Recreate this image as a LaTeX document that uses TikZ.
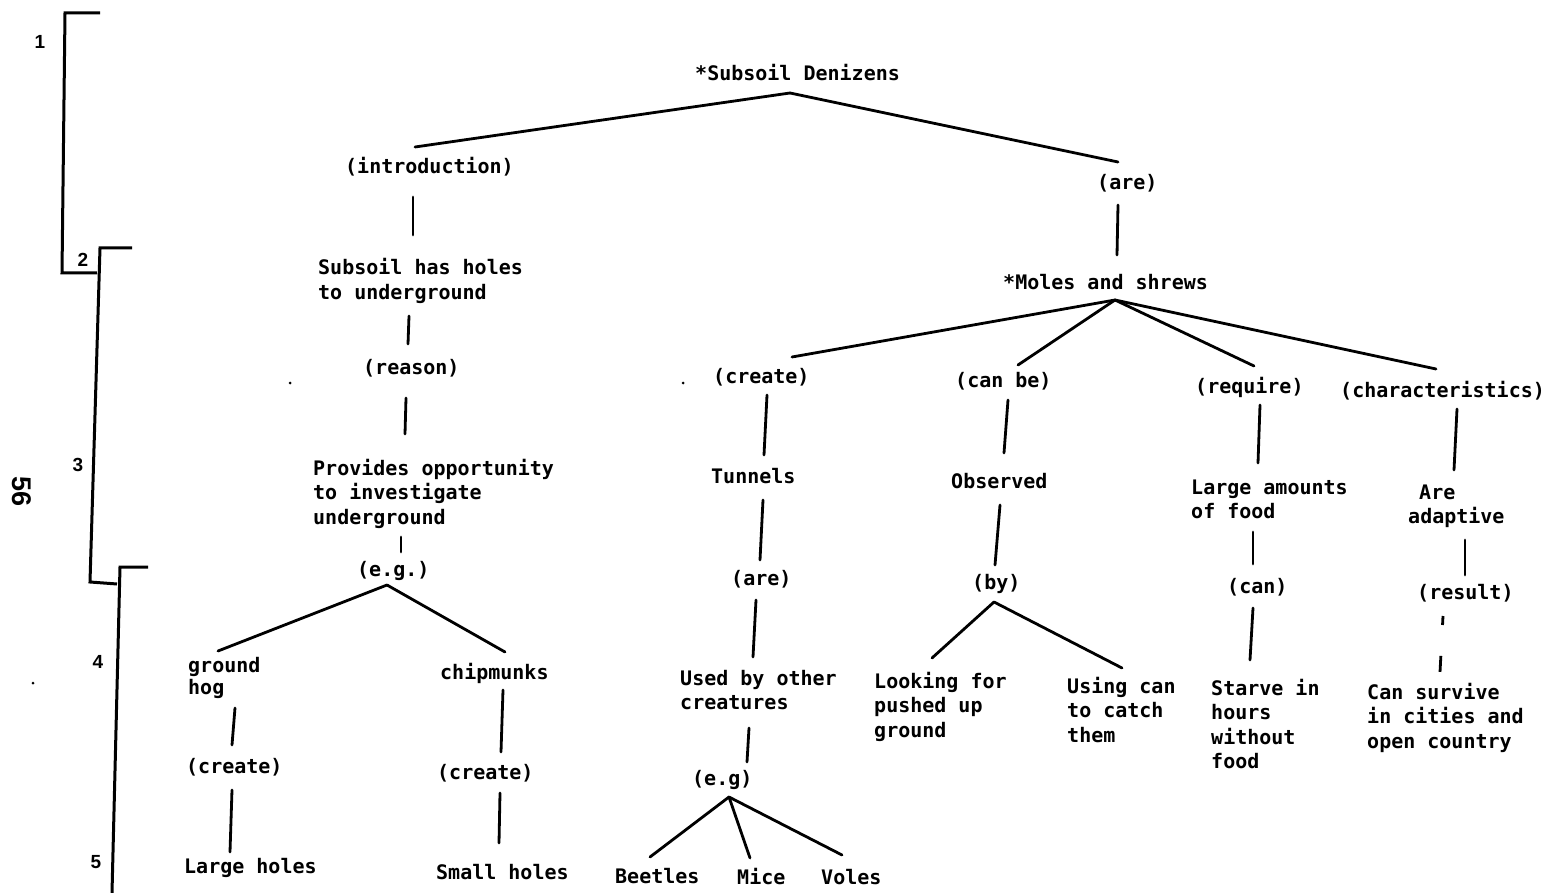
\documentclass[tikz,border=0pt]{standalone}
\usepackage{fontspec}
\setmainfont{DejaVu Sans Mono}
\newfontfamily\numfont{Liberation Sans}
\usetikzlibrary{calc}
\tikzset{
  lab/.style={anchor=base west, inner sep=0pt, font=\bfseries\fontsize{20}{24.5}\selectfont},
  conn/.style={line width=2.8pt, line cap=round},
  num/.style={inner sep=0pt, font=\numfont\bfseries\fontsize{19}{19}\selectfont},
  brk/.style={line width=3pt, line join=miter},
}
\begin{document}
\begin{tikzpicture}[x=1pt,y=-1pt]
\fill[white] (0,0) rectangle (1544,893);
\useasboundingbox (0,0) rectangle (1544,893);

% level brackets
\draw[brk] (100,13) -- (65,13) -- (62,273) -- (97,273);
\draw[brk] (132,248) -- (100,248) -- (90,582) -- (117,584);
\draw[brk] (148,567) -- (120,567) -- (112,893);
\node[num] (n1) at (40,42) {1};
\node[num] (n2) at (83,260) {2};
\node[num] (n3) at (78,465) {3};
\node[num] (n4) at (98,662) {4};
\node[num] (n5) at (96,862) {5};
\node[inner sep=0pt, rotate=-90, font=\numfont\bfseries\fontsize{27}{27}\selectfont] (pg) at (22,492) {56};
\fill (290,383) circle (1.5);
\fill (683,383) circle (1.5);
\fill (33,683) circle (1.5);

% nodes
\node[lab] (top) at (695,81) {*Subsoil Denizens};
\node[lab] (intro) at (345,174) {(introduction)};
\node[lab] (are1) at (1097,190) {(are)};
\node[lab] (sub) at (318,275) {\vtop{\hbox{Subsoil has holes}\hbox{to underground}}};
\node[lab] (moles) at (1003,289) {*Moles and shrews};
\node[lab] (reason) at (363,374) {(reason)};
\node[lab] (create1) at (713,383) {(create)};
\node[lab] (canbe) at (955,387) {(can be)};
\node[lab] (require) at (1195,393) {(require)};
\node[lab] (charac) at (1340,397) {(characteristics)};
\node[lab] (prov) at (313,475) {\vtop{\hbox{Provides opportunity}\hbox{to investigate}\hbox{underground}}};
\node[lab] (tunnels) at (711,483) {Tunnels};
\node[lab] (observed) at (951,488) {Observed};
\node[lab] (large) at (1191,494) {\vtop{\hbox{Large amounts}\hbox{of food}}};
\node[lab] (adaptive) at (1408,499) {\vtop{\hbox{\kern11pt Are}\hbox{adaptive}}};
\node[lab] (eg1) at (357,576) {(e.g.)};
\node[lab] (are2) at (731,585) {(are)};
\node[lab] (by) at (972,589) {(by)};
\node[lab] (can) at (1227,593) {(can)};
\node[lab] (result) at (1417,599) {(result)};
\node[lab] (hog) at (188,672) {\vtop{\baselineskip=22pt\hbox{ground}\hbox{hog}}};
\node[lab] (chip) at (440,679) {chipmunks};
\node[lab] (used) at (680,685) {\vtop{\hbox{Used by other}\hbox{creatures}}};
\node[lab] (looking) at (874,688) {\vtop{\hbox{Looking for}\hbox{pushed up}\hbox{ground}}};
\node[lab] (using) at (1067,693) {\vtop{\hbox{Using can}\hbox{to catch}\hbox{them}}};
\node[lab] (starve) at (1211,695) {\vtop{\hbox{Starve in}\hbox{hours}\hbox{without}\hbox{food}}};
\node[lab] (survive) at (1367,699) {\vtop{\hbox{Can survive}\hbox{in cities and}\hbox{open country}}};
\node[lab] (create2) at (186,773) {(create)};
\node[lab] (create3) at (437,779) {(create)};
\node[lab] (eg2) at (692,785) {(e.g)};
\node[lab] (largeh) at (184,873) {Large holes};
\node[lab] (smallh) at (436,879) {Small holes};
\node[lab] (beetles) at (615,883) {Beetles};
\node[lab] (mice) at (737,884) {Mice};
\node[lab] (voles) at (821,884) {Voles};

% connectors
\draw[conn] ($(top.base west)+(95,12)$) -- ($(intro.base west)+(70,-27)$);
\draw[conn] ($(top.base west)+(95,12)$) -- ($(are1.base west)+(21,-28)$);
\draw[conn] ($(intro.base west)+(68,23)$) -- ($(sub.base west)+(95,-40)$);
\draw[conn] ($(are1.base west)+(21,15)$) -- ($(moles.base west)+(114,-34)$);
\draw[conn] ($(sub.base west)+(91,41)$) -- ($(reason.base west)+(45,-30)$);
\draw[conn] ($(moles.base west)+(112,11)$) -- ($(create1.base west)+(79,-26)$);
\draw[conn] ($(moles.base west)+(112,11)$) -- ($(canbe.base west)+(63,-22)$);
\draw[conn] ($(moles.base west)+(112,11)$) -- ($(require.base west)+(59,-27)$);
\draw[conn] ($(moles.base west)+(112,11)$) -- ($(charac.base west)+(96,-28)$);
\draw[conn] ($(reason.base west)+(43,24)$) -- ($(prov.base west)+(92,-41)$);
\draw[conn] ($(create1.base west)+(54,12)$) -- ($(tunnels.base west)+(53,-28)$);
\draw[conn] ($(canbe.base west)+(53,13)$) -- ($(observed.base west)+(53,-35)$);
\draw[conn] ($(require.base west)+(65,12)$) -- ($(large.base west)+(67,-31)$);
\draw[conn] ($(charac.base west)+(117,12)$) -- ($(adaptive.base west)+(46,-29)$);
\draw[conn] ($(prov.base west)+(88,62)$) -- ($(eg1.base west)+(44,-24)$);
\draw[conn] ($(tunnels.base west)+(52,17)$) -- ($(are2.base west)+(29,-25)$);
\draw[conn] ($(observed.base west)+(49,17)$) -- ($(by.base west)+(23,-24)$);
\draw[conn] ($(large.base west)+(62,38)$) -- ($(can.base west)+(26,-29)$);
\draw[conn] ($(adaptive.base west)+(57,41)$) -- ($(result.base west)+(48,-24)$);
\draw[conn] ($(eg1.base west)+(30,9)$) -- ($(hog.base west)+(30,-21)$);
\draw[conn] ($(eg1.base west)+(30,9)$) -- ($(chip.base west)+(65,-27)$);
\draw[conn] ($(hog.base west)+(47,36)$) -- ($(create2.base west)+(46,-28)$);
\draw[conn] ($(create2.base west)+(46,17)$) -- ($(largeh.base west)+(46,-21)$);
\draw[conn] ($(chip.base west)+(63,11)$) -- ($(create3.base west)+(64,-27)$);
\draw[conn] ($(create3.base west)+(63,14)$) -- ($(smallh.base west)+(63,-36)$);
\draw[conn] ($(are2.base west)+(25,15)$) -- ($(used.base west)+(73,-28)$);
\draw[conn] ($(used.base west)+(69,43)$) -- ($(eg2.base west)+(55,-23)$);
\draw[conn] ($(eg2.base west)+(37,12)$) -- ($(beetles.base west)+(35,-26)$);
\draw[conn] ($(eg2.base west)+(37,12)$) -- ($(mice.base west)+(13,-26)$);
\draw[conn] ($(eg2.base west)+(37,12)$) -- ($(voles.base west)+(21,-29)$);
\draw[conn] ($(by.base west)+(22,13)$) -- ($(looking.base west)+(58,-30)$);
\draw[conn] ($(by.base west)+(22,13)$) -- ($(using.base west)+(55,-25)$);
\draw[conn] ($(can.base west)+(26,15)$) -- ($(starve.base west)+(39,-35)$);
\draw[conn, line cap=butt, dash pattern=on 9pt off 31pt on 16pt off 60pt] ($(result.base west)+(26,17)$) -- ($(survive.base west)+(73,-27)$);
\end{tikzpicture}
\end{document}
